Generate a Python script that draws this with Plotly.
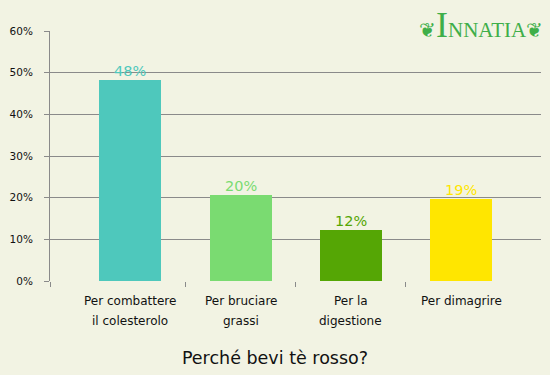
import plotly.graph_objects as go

categories = ["Per combattere\nil colesterolo", "Per bruciare\ngrassi", "Per la\ndigestione", "Per dimagrire"]
values = [48.2, 20.6, 12.2, 19.6]
value_labels = ["48%", "20%", "12%", "19%"]
colors = ["#4EC8BC", "#7ADB71", "#55A605", "#FFE600"]
y_ticks = [0, 10, 20, 30, 40, 50, 60]
title_text = "Perché bevi tè rosso?"

BG = "#F2F3E3"
GRID = "#8A8A8A"
FONT = "DejaVu Sans"

W, H = 550, 375
ML, MR, MT, MB = 50, 9, 31, 94
PW, PH = W - ML - MR, H - MT - MB

x_pos = list(range(len(categories)))
x_min, x_max = -0.73, 3.726

fig = go.Figure()
fig.add_trace(go.Bar(
    x=x_pos, y=values, width=0.563,
    marker=dict(color=colors, line=dict(width=0)),
    hoverinfo="skip", showlegend=False,
))

annotations = []
for i, (v, lab, c) in enumerate(zip(values, value_labels, colors)):
    annotations.append(dict(x=i, y=v, xref="x", yref="y", text=lab, showarrow=False,
                            yanchor="bottom", yshift=-1,
                            font=dict(family=FONT, size=14.5, color=c)))
for i, cat in enumerate(categories):
    for j, line in enumerate(cat.split("\n")):
        annotations.append(dict(x=i, y=0, xref="x", yref="paper", text=line, showarrow=False,
                                yanchor="middle", yshift=-20 - 20 * j,
                                font=dict(family=FONT, size=12, color="#111111")))
# logo
annotations.append(dict(x=(545 - ML) / PW, y=(H - MB - 3) / PH, xref="paper", yref="paper",
                        text="<span style='font-size:20px'>❦</span><span style='font-size:36px'>I</span>NNATIA<span style='font-size:20px'>❦</span>",
                        showarrow=False, xanchor="right", yanchor="top",
                        font=dict(family="Liberation Serif", size=21, color="#3FAE49")))

fig.update_layout(
    width=W, height=H,
    margin=dict(l=ML, r=MR, t=MT, b=MB),
    paper_bgcolor=BG, plot_bgcolor=BG,
    bargap=0,
    annotations=annotations,
    title=dict(text=title_text, x=0.5, xref="container", xanchor="center",
               y=1 - 358 / H, yref="container", yanchor="middle",
               font=dict(family=FONT, size=17.5, color="#111111")),
    xaxis=dict(range=[x_min, x_max], showgrid=False, zeroline=False,
               tickmode="array", tickvals=[x_min, 0.5, 1.5, 2.5], showticklabels=False,
               ticks="outside", ticklen=5, tickcolor=GRID, tickwidth=1,
               showline=False, fixedrange=True),
    yaxis=dict(range=[0, 60], tickmode="array", tickvals=y_ticks,
               ticktext=[f"{t}%" for t in y_ticks],
               showgrid=True, gridcolor=GRID, gridwidth=1, zeroline=False,
               showline=True, linecolor=GRID, linewidth=1,
               ticks="outside", ticklen=5, tickcolor=GRID,
               ticklabelstandoff=9,
               tickfont=dict(family=FONT, size=10.5, color="#111111"), fixedrange=True),
)

fig.write_html("out.html", config={"displayModeBar": False},
               post_script="document.body.style.margin='0';document.body.style.background='%s';" % BG)
